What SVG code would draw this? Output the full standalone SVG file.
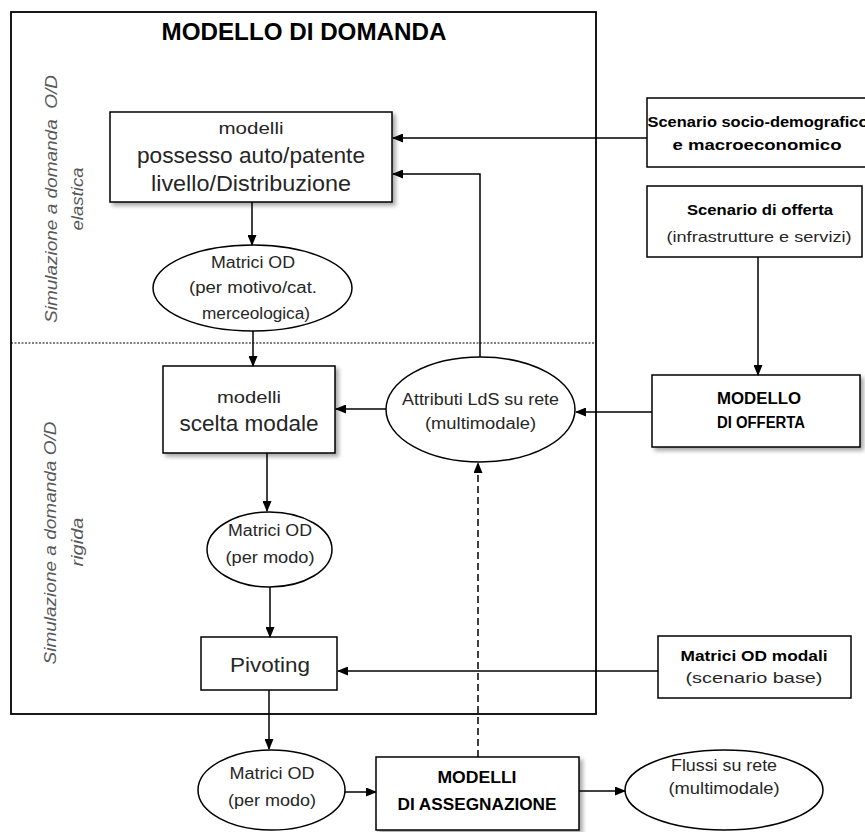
<svg xmlns="http://www.w3.org/2000/svg" width="865" height="832" viewBox="0 0 865 832">
<defs>
<style>
.t{font-family:"Liberation Sans",Arial,sans-serif;fill:#262626;text-anchor:middle;}
.b{font-weight:bold;fill:#000;}
.side{font-family:"Liberation Sans",Arial,sans-serif;font-style:italic;fill:#595959;text-anchor:middle;font-size:17px;}
.box{fill:#fff;stroke:#000;stroke-width:1.5;}
.ell{fill:#fff;stroke:#000;stroke-width:1.5;}
.c{fill:none;stroke:#000;stroke-width:1.5;}
</style>
<marker id="ah" markerUnits="userSpaceOnUse" markerWidth="11" markerHeight="9" refX="10" refY="4.5" orient="auto">
<path d="M0,0 L11,4.5 L0,9 z" fill="#000"/>
</marker>
<filter id="sh" x="-10%" y="-10%" width="125%" height="130%">
<feDropShadow dx="3" dy="3" stdDeviation="2" flood-color="#000" flood-opacity="0.35"/>
</filter>
</defs>
<rect width="865" height="832" fill="#fff"/>

<g id="modello-domanda">
<rect x="11" y="12" width="585" height="702" fill="none" stroke="#000" stroke-width="1.8"/>
<text class="t b" x="304" y="40" font-size="23" textLength="285" lengthAdjust="spacingAndGlyphs">MODELLO DI DOMANDA</text>
<line x1="11" y1="343" x2="596" y2="343" stroke="#000" stroke-width="1" stroke-dasharray="2,1.5"/>
<text class="side" transform="translate(57,199) rotate(-90)" xml:space="preserve" textLength="248" lengthAdjust="spacingAndGlyphs">Simulazione a domanda  O/D</text>
<text class="side" transform="translate(83,199) rotate(-90)" textLength="63" lengthAdjust="spacingAndGlyphs">elastica</text>
<text class="side" transform="translate(56,543) rotate(-90)" textLength="243" lengthAdjust="spacingAndGlyphs">Simulazione a domanda O/D</text>
<text class="side" transform="translate(83,542) rotate(-90)" textLength="49" lengthAdjust="spacingAndGlyphs">rigida</text>
</g>

<g id="possesso">
<rect class="box" x="110" y="112" width="282" height="90" filter="url(#sh)"/>
<text class="t" x="251" y="134" font-size="17" textLength="65" lengthAdjust="spacingAndGlyphs">modelli</text>
<text class="t" x="251" y="163" font-size="22" textLength="228" lengthAdjust="spacingAndGlyphs">possesso auto/patente</text>
<text class="t" x="251" y="191" font-size="22" textLength="200" lengthAdjust="spacingAndGlyphs">livello/Distribuzione</text>
</g>

<g id="matrici-motivo">
<ellipse class="ell" cx="252.5" cy="288" rx="99.5" ry="43"/>
<text class="t" x="253" y="268" font-size="16" textLength="84" lengthAdjust="spacingAndGlyphs">Matrici OD</text>
<text class="t" x="253" y="293" font-size="16" textLength="128" lengthAdjust="spacingAndGlyphs">(per motivo/cat.</text>
<text class="t" x="256" y="319" font-size="16" textLength="108" lengthAdjust="spacingAndGlyphs">merceologica)</text>
</g>

<g id="scelta-modale">
<rect class="box" x="163" y="366" width="172" height="87" filter="url(#sh)"/>
<text class="t" x="249" y="403" font-size="17" textLength="64" lengthAdjust="spacingAndGlyphs">modelli</text>
<text class="t" x="249" y="431" font-size="22" textLength="139" lengthAdjust="spacingAndGlyphs">scelta modale</text>
</g>

<g id="attributi">
<ellipse class="ell" cx="480.5" cy="409.5" rx="94.5" ry="52.5"/>
<text class="t" x="480.5" y="405" font-size="16" textLength="157" lengthAdjust="spacingAndGlyphs">Attributi LdS su rete</text>
<text class="t" x="480.5" y="429" font-size="16" textLength="111" lengthAdjust="spacingAndGlyphs">(multimodale)</text>
</g>

<g id="matrici-modo">
<ellipse class="ell" cx="269.5" cy="549.5" rx="62.5" ry="37.5"/>
<text class="t" x="270" y="536" font-size="16" textLength="84" lengthAdjust="spacingAndGlyphs">Matrici OD</text>
<text class="t" x="270" y="563" font-size="16" textLength="89" lengthAdjust="spacingAndGlyphs">(per modo)</text>
</g>

<g id="pivoting">
<rect class="box" x="201" y="637" width="136" height="53"/>
<text class="t" x="270" y="672" font-size="21" fill="#000" textLength="80" lengthAdjust="spacingAndGlyphs">Pivoting</text>
</g>

<g id="matrici-modo-2">
<ellipse class="ell" cx="271.5" cy="790" rx="73.5" ry="40"/>
<text class="t" x="272" y="779" font-size="16" textLength="85" lengthAdjust="spacingAndGlyphs">Matrici OD</text>
<text class="t" x="272" y="806" font-size="16" textLength="88" lengthAdjust="spacingAndGlyphs">(per modo)</text>
</g>

<g id="assegnazione">
<rect class="box" x="376" y="757" width="203" height="73" filter="url(#sh)"/>
<text class="t b" x="477" y="783" font-size="16" textLength="79" lengthAdjust="spacingAndGlyphs">MODELLI</text>
<text class="t b" x="477" y="810" font-size="16" textLength="159" lengthAdjust="spacingAndGlyphs">DI ASSEGNAZIONE</text>
</g>

<g id="flussi">
<ellipse class="ell" cx="724" cy="790" rx="99" ry="40"/>
<text class="t" x="724" y="771" font-size="16" fill="#404040" textLength="106" lengthAdjust="spacingAndGlyphs">Flussi su rete</text>
<text class="t" x="724" y="794" font-size="16" fill="#404040" textLength="111" lengthAdjust="spacingAndGlyphs">(multimodale)</text>
</g>

<g id="scenario-socio">
<rect class="box" x="647" y="98" width="222" height="69"/>
<text class="t b" x="758" y="127" font-size="15" textLength="221" lengthAdjust="spacingAndGlyphs">Scenario socio-demografico</text>
<text class="t b" x="757" y="150" font-size="15" textLength="169" lengthAdjust="spacingAndGlyphs">e macroeconomico</text>
</g>

<g id="scenario-offerta">
<rect class="box" x="647" y="186" width="215" height="71"/>
<text class="t b" x="760" y="215" font-size="15" textLength="146" lengthAdjust="spacingAndGlyphs">Scenario di offerta</text>
<text class="t" x="759" y="242" font-size="15" textLength="185" lengthAdjust="spacingAndGlyphs">(infrastrutture e servizi)</text>
</g>

<g id="modello-offerta">
<rect class="box" x="652" y="375" width="208" height="72" filter="url(#sh)"/>
<text class="t b" x="759" y="404" font-size="16" textLength="84" lengthAdjust="spacingAndGlyphs">MODELLO</text>
<text class="t b" x="761" y="428" font-size="16" textLength="88" lengthAdjust="spacingAndGlyphs">DI OFFERTA</text>
</g>

<g id="matrici-modali">
<rect class="box" x="658" y="636" width="193" height="62"/>
<text class="t b" x="754" y="661" font-size="15" textLength="147" lengthAdjust="spacingAndGlyphs">Matrici OD modali</text>
<text class="t" x="754" y="683" font-size="15" textLength="137" lengthAdjust="spacingAndGlyphs">(scenario base)</text>
</g>

<g id="connectors">
<path class="c" d="M647,138 H393" marker-end="url(#ah)"/>
<path class="c" d="M480,357 V174 H393" marker-end="url(#ah)"/>
<path class="c" d="M252,202 V245" marker-end="url(#ah)"/>
<path class="c" d="M253,331 V366" marker-end="url(#ah)"/>
<path class="c" d="M386,409 H336" marker-end="url(#ah)"/>
<path class="c" d="M758,257 V375" marker-end="url(#ah)"/>
<path class="c" d="M652,412 H576" marker-end="url(#ah)"/>
<path class="c" d="M267,453 V511" marker-end="url(#ah)"/>
<path class="c" d="M270,587 V637" marker-end="url(#ah)"/>
<path class="c" d="M269,690 V749" marker-end="url(#ah)"/>
<path class="c" d="M658,671 H338" marker-end="url(#ah)"/>
<path class="c" d="M345,792 H376" marker-end="url(#ah)"/>
<path class="c" d="M579,791 H625" marker-end="url(#ah)"/>
<path class="c" d="M478,757 V463" stroke-dasharray="7,4" marker-end="url(#ah)"/>
</g>
</svg>
